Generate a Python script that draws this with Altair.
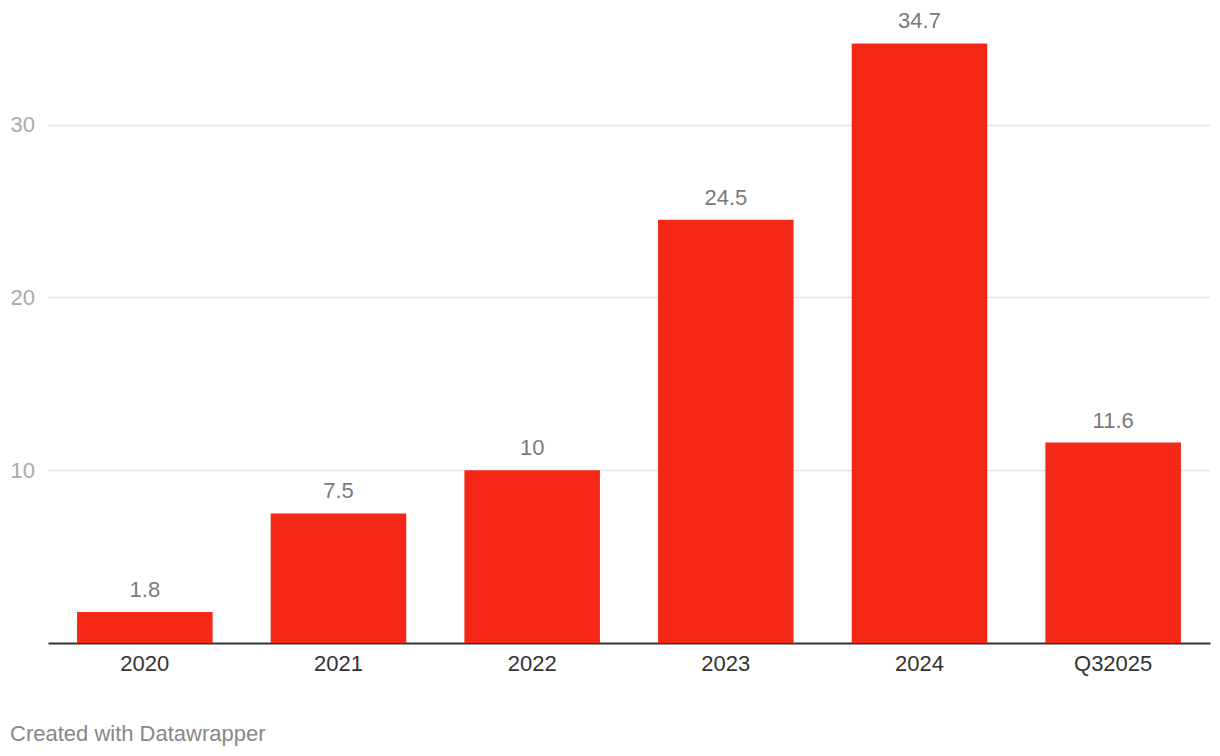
import altair as alt
import pandas as pd

categories = ["2020", "2021", "2022", "2023", "2024", "Q32025"]
values = [1.8, 7.5, 10, 24.5, 34.7, 11.6]
value_labels = ["1.8", "7.5", "10", "24.5", "34.7", "11.6"]
y_ticks = [10, 20, 30]

df = pd.DataFrame({"cat": categories, "val": values, "lab": value_labels})

FONT = "Liberation Sans"

x = alt.X("cat:N", sort=categories, title=None,
          scale=alt.Scale(paddingInner=0.3, paddingOuter=0.15),
          axis=alt.Axis(labelAngle=0, labelFontSize=22, labelColor="#333333",
                        labelFont=FONT, labelPadding=10, ticks=False, tickSize=0,
                        domainColor="#333333", domainWidth=2, grid=False))
y = alt.Y("val:Q", title=None, scale=alt.Scale(domain=[0, 36], nice=False),
          axis=alt.Axis(values=y_ticks, labelFontSize=22, labelColor="#aaaaaa",
                        labelFont=FONT, labelAlign="left", labelPadding=38,
                        ticks=False, tickSize=0, domain=False,
                        gridColor="#e3e3e3", gridWidth=1.5))

bars = alt.Chart(df).mark_bar(color="#f52818").encode(x=x, y=y)
labels = alt.Chart(df).mark_text(baseline="bottom", dy=-10, fontSize=22,
                                 font=FONT, color="#7a7a7a").encode(
    x=alt.X("cat:N", sort=categories), y="val:Q", text="lab:N")

chart = (bars + labels).properties(
    width=1162, height=622,
    autosize=alt.AutoSizeParams(type="none"),
    padding={"left": 40, "top": 13, "right": 2, "bottom": 112},
    title=alt.TitleParams("Created with Datawrapper", orient="bottom",
                          anchor="start", frame="bounds", fontSize=22,
                          font=FONT, fontWeight="normal", color="#888888",
                          offset=50),
).configure_view(stroke=None)

chart.save("out.html", embed_options={"renderer": "svg", "actions": False})
